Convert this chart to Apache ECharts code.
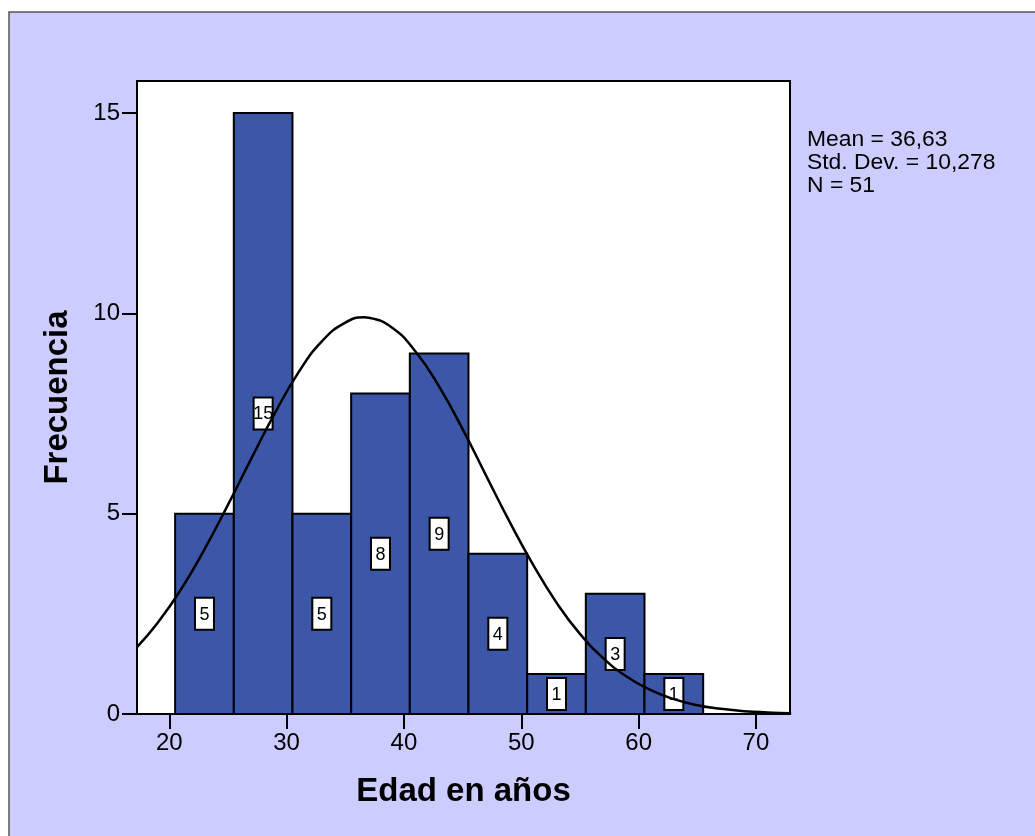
<!DOCTYPE html>
<html>
<head>
<meta charset="utf-8">
<script src="https://cdn.jsdelivr.net/npm/echarts@6/dist/echarts.min.js"></script>
<style>
html,body{margin:0;padding:0;background:#fff;}
#chart{width:1035px;height:836px;}
</style>
</head>
<body>
<div id="chart"></div>
<script>
// Histogram bins (age in years)
var binLow  = [20.5, 25.5, 30.5, 35.5, 40.5, 45.5, 50.5, 55.5, 60.5];
var binHigh = [25.5, 30.5, 35.5, 40.5, 45.5, 50.5, 55.5, 60.5, 65.5];
var counts  = [5, 15, 5, 8, 9, 4, 1, 3, 1];

// Fitted normal curve
var curveX = [17.25, 19, 21, 23, 25, 27, 29, 31, 33, 35, 36.63, 37, 39, 41, 43, 45, 47, 49, 51, 53, 55, 57, 59, 61, 63, 65, 67, 69, 71, 73];
var curveY = [1.67, 2.27, 3.11, 4.11, 5.22, 6.38, 7.51, 8.52, 9.30, 9.77, 9.90, 9.89, 9.64, 9.04, 8.17, 7.11, 5.95, 4.80, 3.73, 2.78, 2.00, 1.39, 0.93, 0.60, 0.37, 0.22, 0.13, 0.07, 0.04, 0.02];

var xTicks = [20, 30, 40, 50, 60, 70];
var yTicks = [0, 5, 10, 15];
var statsLines = ['Mean = 36,63', 'Std. Dev. = 10,278', 'N = 51'];

var barData = binLow.map(function (lo, i) { return [lo, binHigh[i], counts[i]]; });
var curveData = curveX.map(function (x, i) { return [x, curveY[i]]; });

var FONT = '"Liberation Sans", Arial, sans-serif';

var chart = echarts.init(document.getElementById('chart'), null, {renderer: 'canvas'});
chart.setOption({
  backgroundColor: '#fff',
  animation: false,
  graphic: [
    {
      type: 'rect', z: -100, silent: true,
      shape: {x: 9, y: 12, width: 1040, height: 840},
      style: {fill: '#CCCCFF', stroke: '#555', lineWidth: 1.5}
    },
    {
      type: 'text', x: 807, y: 128, scaleX: 1.04, z: 10,
      style: {
        text: statsLines.join('\n'),
        font: '22px ' + FONT,
        lineHeight: 23,
        fill: '#000'
      }
    }
  ],
  grid: {
    left: 137, top: 81, right: 245, bottom: 122,
    show: true, backgroundColor: '#fff', borderColor: '#000', borderWidth: 2
  },
  xAxis: {
    type: 'value', min: 17.25, max: 72.9,
    name: 'Edad en años', nameLocation: 'middle', nameGap: 61,
    nameTextStyle: {fontFamily: FONT, fontSize: 33, fontWeight: 'bold', color: '#000'},
    axisLine: {show: true, onZero: false, lineStyle: {color: '#000', width: 2}},
    axisTick: {show: true, length: 15, lineStyle: {color: '#000', width: 2}, customValues: xTicks},
    axisLabel: {fontFamily: FONT, fontSize: 24, color: '#000', margin: 17, customValues: xTicks},
    splitLine: {show: false}
  },
  yAxis: {
    type: 'value', min: 0, max: 15.8,
    name: 'Frecuencia', nameLocation: 'middle', nameGap: 63, nameRotate: 90,
    nameTextStyle: {fontFamily: FONT, fontSize: 33, fontWeight: 'bold', color: '#000'},
    axisLine: {show: true, onZero: false, lineStyle: {color: '#000', width: 2}},
    axisTick: {show: true, length: 15, lineStyle: {color: '#000', width: 2}, customValues: yTicks},
    axisLabel: {fontFamily: FONT, fontSize: 24, color: '#000', margin: 17, customValues: yTicks},
    splitLine: {show: false}
  },
  series: [
    {
      type: 'custom',
      data: barData,
      z: 2,
      renderItem: function (params, api) {
        var lo = api.value(0), hi = api.value(1), v = api.value(2);
        var p0 = api.coord([lo, v]);
        var p1 = api.coord([hi, 0]);
        var mid = api.coord([(lo + hi) / 2, v / 2]);
        return {
          type: 'group',
          children: [
            {type: 'rect', shape: {x: p0[0], y: p0[1], width: p1[0] - p0[0], height: p1[1] - p0[1]},
             style: {fill: '#3C56A8', stroke: '#000', lineWidth: 2}},
            {type: 'rect', shape: {x: mid[0] - 9.5, y: mid[1] - 16, width: 19, height: 32},
             style: {fill: '#fff', stroke: '#000', lineWidth: 2}},
            {type: 'text', x: mid[0], y: mid[1] + 1,
             style: {text: String(v), fill: '#000', font: '18px ' + FONT, align: 'center', verticalAlign: 'middle'}}
          ]
        };
      }
    },
    {
      type: 'line',
      data: curveData,
      smooth: true,
      showSymbol: false,
      z: 5,
      clip: true,
      lineStyle: {color: '#000', width: 2.5}
    }
  ]
});
</script>
</body>
</html>
